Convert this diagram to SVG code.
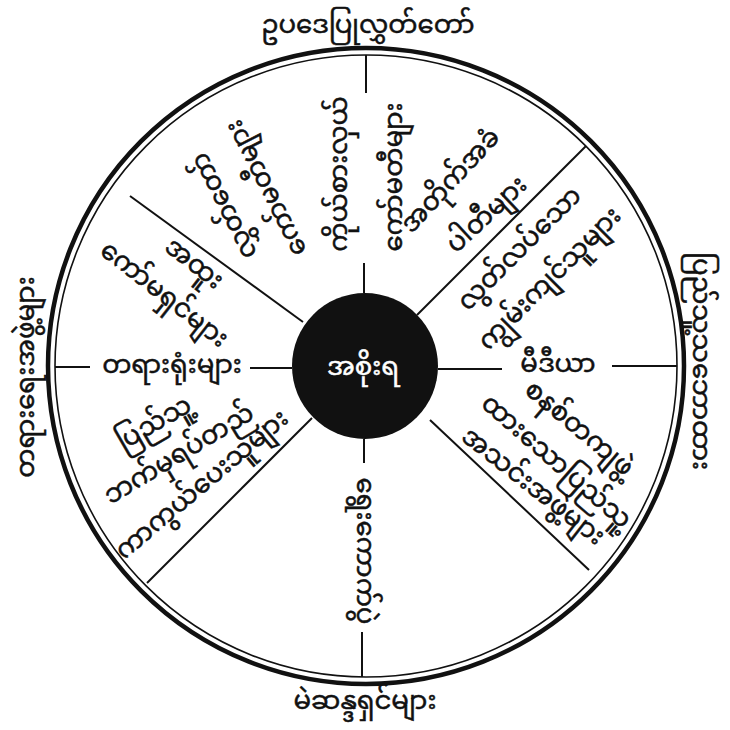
<svg xmlns="http://www.w3.org/2000/svg" width="730" height="730" viewBox="0 0 730 730">
<style>
.t{font-family:"Noto Sans Myanmar","Padauk","Myanmar Text","Noto Sans","DejaVu Sans",sans-serif;font-size:26px;fill:#111;text-anchor:middle;dominant-baseline:central;stroke:#111;stroke-width:0.5}
.w{fill:#fff;stroke:#fff}
.ln{stroke:#111;stroke-width:2;fill:none}
</style>
<rect width="730" height="730" fill="#fff"/>
<g id="rim">
<circle cx="366" cy="366" r="318" fill="none" stroke="#111" stroke-width="4.5"/>
<circle cx="366" cy="366" r="311" fill="none" stroke="#111" stroke-width="1.6"/>
</g>
<g id="connectors" class="ln">
<line x1="366" y1="55" x2="366" y2="93"/>
<line x1="364" y1="263" x2="364" y2="293"/>
<line x1="364" y1="439" x2="364" y2="463"/>
<line x1="362" y1="632" x2="362" y2="677"/>
<line x1="55" y1="367" x2="90" y2="367"/>
<line x1="250" y1="368" x2="292" y2="368"/>
<line x1="438" y1="369" x2="502" y2="369"/>
<line x1="612" y1="366" x2="677" y2="366"/>
<line x1="417" y1="315" x2="586" y2="146"/>
<line x1="312" y1="418" x2="147" y2="583"/>
<line x1="303" y1="322" x2="130" y2="196"/>
<line x1="430" y1="420" x2="589" y2="570"/>
</g>
<g id="center">
<circle cx="365" cy="366" r="73" fill="#111"/>
<text class="t w" x="363" y="369" font-size="30">အစိုးရ</text>
</g>
<g id="label-top"><text class="t" x="368" y="27" font-size="27">ဥပဒေပြုလွှတ်တော်</text></g>
<g id="label-right"><text class="t" transform="translate(699 361) rotate(90)" font-size="27">ပြည်သူ့သဘောထား</text></g>
<g id="label-bottom"><text class="t" x="365" y="703" font-size="27">မဲဆန္ဒရှင်များ</text></g>
<g id="label-left"><text class="t" transform="translate(28 377) rotate(-90)" font-size="25">တရားရေးအဖွဲ့များ</text></g>
<g id="n-topleft">
<text class="t" transform="translate(226 205) rotate(-117)">လွှတ်တော်</text>
<text class="t" transform="translate(268 187) rotate(-117)">ကော်မတီများ</text>
</g>
<g id="n-top">
<text class="t" transform="translate(341 174) rotate(-90)">ကိုယ်စားလှယ်</text>
<text class="t" transform="translate(396 177) rotate(-90)">ကော်မတီများ</text>
</g>
<g id="n-opposition">
<text class="t" transform="translate(452 182) rotate(-47)">အတိုက်အခံ</text>
<text class="t" transform="translate(488 216) rotate(-43)">ပါတီများ</text>
</g>
<g id="n-experts">
<text class="t" transform="translate(521 250) rotate(-45)">လွတ်လပ်သော</text>
<text class="t" transform="translate(551 280) rotate(-45)">ကျွမ်းကျင်သူများ</text>
</g>
<g id="n-media"><text class="t" x="558" y="366">မီဒီယာ</text></g>
<g id="n-civil">
<text class="t" transform="translate(578 430) rotate(40)">စနစ်တကျဖွဲ့</text>
<text class="t" transform="translate(555 463) rotate(41)">ထားသောပြည်သူ့</text>
<text class="t" transform="translate(532 488) rotate(38)">အသင်းအဖွဲ့များ</text>
</g>
<g id="n-elections"><text class="t" transform="translate(363 551) rotate(90)">ရွေးကောက်ပွဲ</text></g>
<g id="n-ombudsman">
<text class="t" transform="translate(155 425) rotate(-30)">ပြည်သူ့</text>
<text class="t" transform="translate(180 456) rotate(-31)">ဘက်မှရပ်တည်</text>
<text class="t" transform="translate(203 486) rotate(-40)">ကာကွယ်ပေးသူများ</text>
</g>
<g id="n-courts"><text class="t" x="172" y="367">တရားရုံးများ</text></g>
<g id="n-commissions">
<text class="t" transform="translate(193 265) rotate(38)">အထူး</text>
<text class="t" transform="translate(163 296) rotate(38)">ကော်မရှင်များ</text>
</g>
</svg>
